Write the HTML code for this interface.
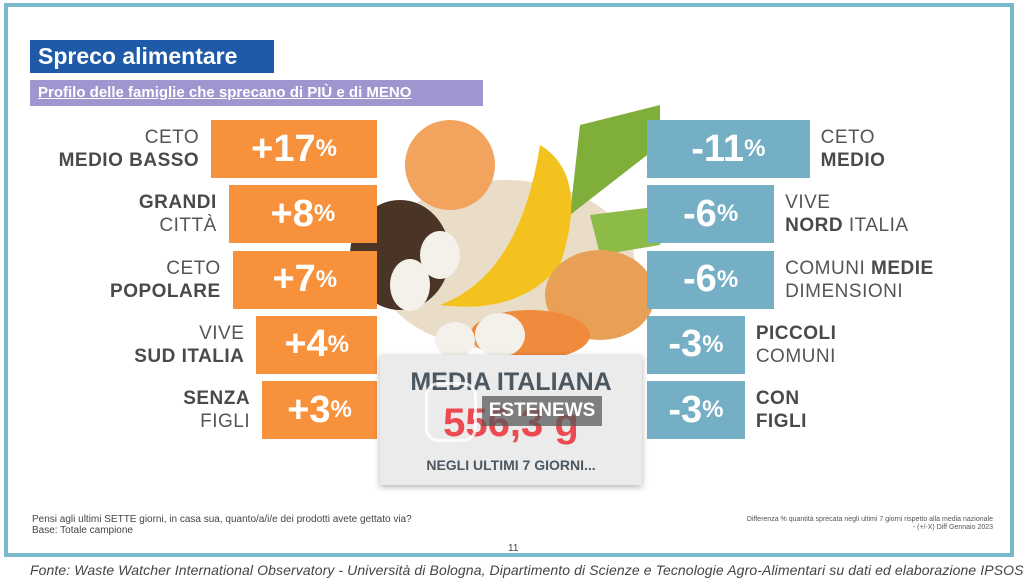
<!DOCTYPE html>
<html><head><meta charset="utf-8">
<style>
body{margin:0;width:1024px;height:577px;background:#fff;font-family:"Liberation Sans",sans-serif;overflow:hidden;position:relative}
.frame{position:absolute;left:4px;top:3px;width:1010px;height:554px;border:4px solid #79b7cc;box-sizing:border-box;background:#fff}
.abs{position:absolute}
.lbl{position:absolute;font-size:19px;line-height:23px;color:#555;letter-spacing:0.5px}
.lbl b{color:#4a4a4a}
.bar{position:absolute;height:58px;color:#fff;font-weight:bold;font-size:38px;display:flex;align-items:center;justify-content:center}
.bar span{font-size:24px}
</style></head><body>
<div class="frame"></div>
<div class="abs" style="left:30px;top:40px;width:244px;height:33px;background:#1f5aa8;color:#fff;font-weight:bold;font-size:23px;line-height:33px;padding-left:8px;box-sizing:border-box">Spreco alimentare</div>
<div class="abs" style="left:30px;top:80px;width:453px;height:26px;background:#a195cf;color:#fff;font-weight:bold;font-size:15px;line-height:26px;padding-left:8px;box-sizing:border-box;text-decoration:underline">Profilo delle famiglie che sprecano di PIÙ e di MENO</div>

<svg class="abs" style="left:340px;top:105px" width="330" height="260">
<ellipse cx="165" cy="160" rx="130" ry="85" fill="#e9ddc8"/>
<ellipse cx="60" cy="150" rx="50" ry="55" fill="#4a3426"/>
<path d="M240 20 L320 0 L320 40 L230 110Z" fill="#7fae3a"/>
<path d="M250 110 L330 100 L320 140 L260 150Z" fill="#8dbb47"/>
<ellipse cx="110" cy="60" rx="45" ry="45" fill="#f2a35e"/>
<path d="M200 40 Q250 70 220 160 Q180 210 100 200 Q180 170 200 40Z" fill="#f4c21f"/>
<ellipse cx="260" cy="190" rx="55" ry="45" fill="#e8a056"/>
<ellipse cx="190" cy="230" rx="60" ry="25" fill="#f08a3c"/>
<ellipse cx="70" cy="180" rx="20" ry="26" fill="#f4f1ea"/>
<ellipse cx="100" cy="150" rx="20" ry="24" fill="#f4f1ea"/>
<ellipse cx="160" cy="230" rx="25" ry="22" fill="#f4f1ea"/>
<ellipse cx="115" cy="235" rx="20" ry="18" fill="#f4f1ea"/>
</svg>

<div id="bars"></div>

<div class="abs" style="left:380px;top:355px;width:262px;height:130px;background:#ebebeb;box-shadow:0 2px 6px rgba(0,0,0,.3);text-align:center">
<div style="margin-top:13px;font-size:25px;font-weight:bold;color:#4b5761">MEDIA ITALIANA</div>
<div style="font-size:40px;font-weight:bold;color:#ea4a50;line-height:44px;margin-top:4px">556,3 g</div>
<div style="font-size:14px;font-weight:bold;color:#4b5761;margin-top:12px">NEGLI ULTIMI 7 GIORNI...</div>
</div>
<div class="abs" style="left:482px;top:396px;width:120px;height:30px;background:rgba(90,90,90,.75);color:#fff;font-size:19px;font-weight:bold;line-height:30px;text-align:center">ESTENEWS</div>
<div class="abs" style="left:425px;top:382px;width:52px;height:60px;border:3px solid rgba(255,255,255,.8);border-radius:14px;box-sizing:border-box"></div>

<div class="abs" style="left:32px;top:514px;font-size:10px;line-height:11px;color:#444">Pensi agli ultimi SETTE giorni, in casa sua, quanto/a/i/e dei prodotti avete gettato via?<br>Base: Totale campione</div>
<div class="abs" style="right:31px;top:516px;font-size:7px;line-height:8px;color:#555;text-align:right">Differenza % quantità sprecata negli ultimi 7 giorni rispetto alla media nazionale<br>- (+/-X) Diff Gennaio 2023</div>
<div class="abs" style="left:508px;top:543px;font-size:10px;color:#444">11</div>
<div class="abs" style="left:30px;top:562px;font-size:14px;font-style:italic;color:#444;white-space:nowrap;letter-spacing:0.1px">Fonte: Waste Watcher International Observatory - Università di Bologna, Dipartimento di Scienze e Tecnologie Agro-Alimentari su dati ed elaborazione IPSOS</div>

<script>
const moreLabels1=["CETO","GRANDI","CETO","VIVE","SENZA"];
const moreLabels2=["MEDIO BASSO","CITTÀ","POPOLARE","SUD ITALIA","FIGLI"];
const moreBoldFirst=[false,true,false,false,true];
const moreValues=[17,8,7,4,3];
const lessLabels1=["CETO","VIVE","COMUNI <b>MEDIE</b>","PICCOLI","CON"];
const lessLabels2=["MEDIO","<b>NORD</b> ITALIA","DIMENSIONI","COMUNI","FIGLI"];
const lessBoldFirst=[false,false,false,true,true];
const lessBoldSecond=[true,false,false,false,true];
const lessValues=[11,6,6,3,3];
const root=document.getElementById('bars');
const rowY=i=>120+i*65.3;
const wMore=v=>78+21.3*Math.sqrt(v)+(v>5&&v<15?10:0);
const wLess=v=>27+40.9*Math.sqrt(v);
moreValues.forEach((v,i)=>{
 const w=wMore(v),x=377-w;
 const b=document.createElement('div');b.className='bar';
 
 
 b.style.cssText=`left:${x}px;top:${rowY(i)}px;width:${w}px;background:#f7913c`;
 b.innerHTML=`+${v}<span>%</span>`;root.appendChild(b);
 const l=document.createElement('div');l.className='lbl';
 
 
 l.style.cssText=`right:${1024-x+12}px;top:${rowY(i)+6}px;text-align:right`;
 const a=moreBoldFirst[i]?`<b>${moreLabels1[i]}</b>`:moreLabels1[i];
 const c=moreBoldFirst[i]?moreLabels2[i]:`<b>${moreLabels2[i]}</b>`;
 l.innerHTML=a+'<br>'+c;root.appendChild(l);
});
lessValues.forEach((v,i)=>{
 const w=wLess(v),x=647;
 const b=document.createElement('div');b.className='bar';
 
 
 b.style.cssText=`left:${x}px;top:${rowY(i)}px;width:${w}px;background:#74afc5`;
 b.innerHTML=`-${v}<span>%</span>`;root.appendChild(b);
 const l=document.createElement('div');l.className='lbl';
 
 
 l.style.cssText=`left:${x+w+11}px;top:${rowY(i)+6}px`;
 const a=lessBoldFirst[i]?`<b>${lessLabels1[i]}</b>`:lessLabels1[i];
 const c=lessBoldSecond[i]?`<b>${lessLabels2[i]}</b>`:lessLabels2[i];
 l.innerHTML=a+'<br>'+c;root.appendChild(l);
});
</script>
</body></html>
